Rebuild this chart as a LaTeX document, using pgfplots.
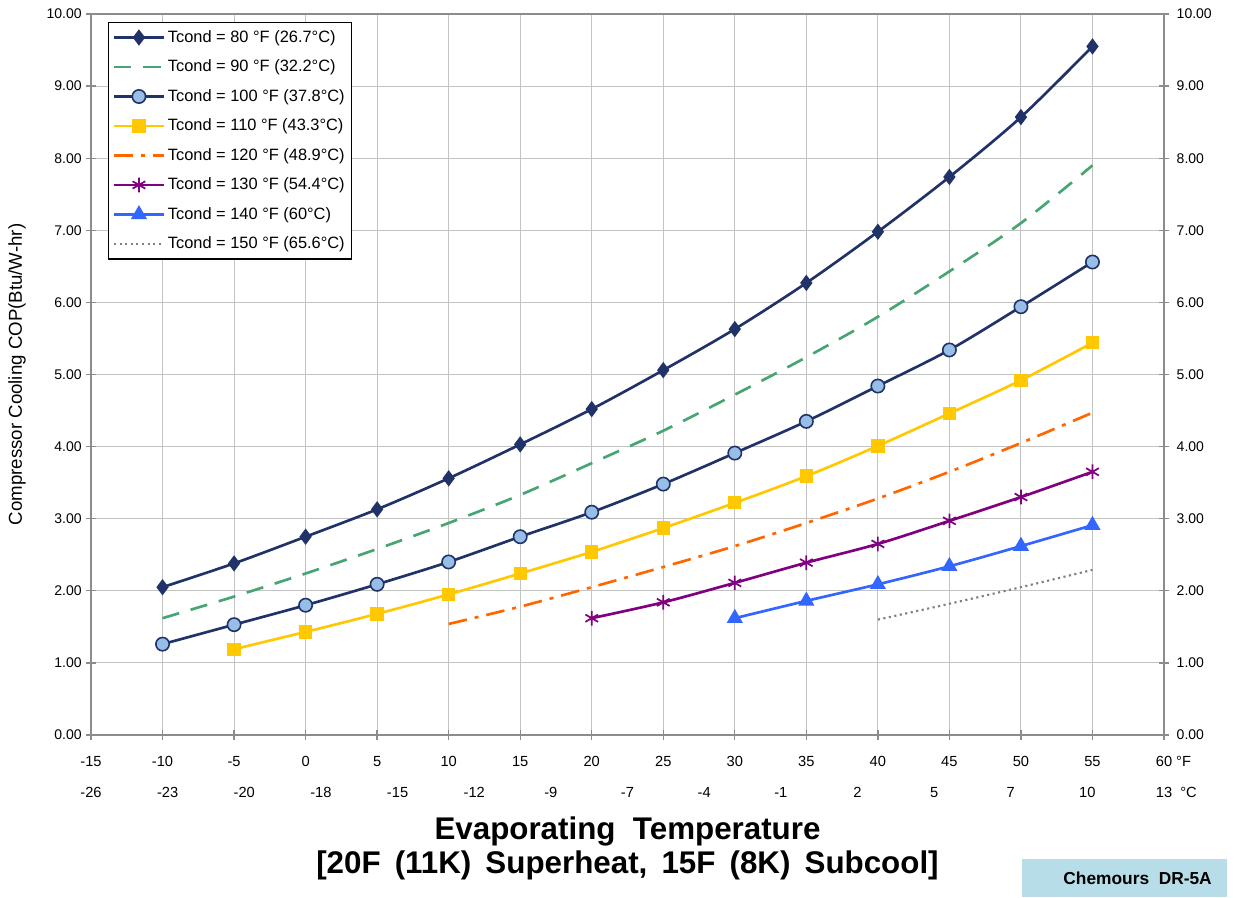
\documentclass[border=0pt]{standalone}
\usepackage{fontspec}
\setmainfont{Liberation Sans}
\usepackage{pgfplots}
\pgfplotsset{compat=1.18}

\definecolor{cnavy}{RGB}{32,50,104}
\definecolor{cgreen}{RGB}{70,165,115}
\definecolor{clight}{RGB}{150,190,230}
\definecolor{cgold}{RGB}{255,200,0}
\definecolor{corange}{RGB}{255,102,0}
\definecolor{cpurple}{RGB}{128,0,128}
\definecolor{cblue}{RGB}{51,102,255}
\definecolor{cgray}{RGB}{128,128,128}
\definecolor{gridgray}{RGB}{195,195,195}
\definecolor{axgray}{RGB}{140,140,140}
\definecolor{boxblue}{RGB}{183,222,232}

\begin{document}
\begin{tikzpicture}
\pgfplotsset{
  /pgf/number format/assume math mode=true,
  /pgfplots/legend image code/.code={%
    \draw[mark repeat=2,mark phase=2,#1] plot coordinates {(0pt,0pt) (18.75pt,0pt) (37.5pt,0pt)};}
}
\begin{axis}[
  scale only axis, width=804.75pt, height=540.75pt,
  xmin=-15, xmax=60, ymin=0, ymax=10,
  xtick={-15,-10,...,60},
  xticklabels={-15,-10,-5,0,5,10,15,20,25,30,35,40,45,50,55,{60\rlap{ °F}}},
  ytick={0,1,...,10},
  grid=major, major grid style={color=gridgray, line width=0.8pt},
  axis line style={color=axgray, line width=1.2pt},
  tick style={color=axgray, line width=1pt}, tick align=center, major tick length=7pt,
  xtick pos=bottom, ytick pos=both, yticklabel pos=left,
  yticklabel style={/pgf/number format/fixed, /pgf/number format/fixed zerofill, /pgf/number format/precision=2, font=\fontsize{10.5}{12}\selectfont},
  xticklabel style={font=\fontsize{11}{13}\selectfont, yshift=-9.25pt},
  ylabel={Compressor Cooling COP(Btu/W-hr)},
  ylabel style={at={(axis description cs:-0.069,0.5)}, anchor=center, font=\fontsize{14}{16}\selectfont},
  xlabel={Evaporating\ \ Temperature\\{[}20F\hspace{0.45em}(11K)\hspace{0.45em}Superheat,\hspace{0.45em}15F\hspace{0.45em}(8K)\hspace{0.45em}Subcool{]}},
  xlabel style={at={(axis description cs:0.5,0)}, anchor=center, yshift=-85pt, align=center, font=\bfseries\fontsize{23.5}{25.5}\selectfont},
  legend style={at={(0.0158,0.989)}, anchor=north west, draw=black, line width=1pt, font=\fontsize{12.3}{14}\selectfont, row sep=7.7pt, inner xsep=3pt, inner ysep=4pt, fill=white},
  legend cell align=left,
  every axis plot/.append style={line width=2pt, smooth},
]
\addplot[cnavy, mark=diamond*, mark size=4.5pt, mark options={fill=cnavy, solid}] coordinates {
(-10,2.05) (-5,2.38) (0,2.75) (5,3.13) (10,3.56) (15,4.03) (20,4.52) (25,5.06) (30,5.63) (35,6.27) (40,6.98) (45,7.74) (50,8.57) (55,9.55)};
\addlegendentry{Tcond = 80 °F (26.7°C)}
\addplot[cgreen, dash pattern=on 13pt off 9pt, mark=none] coordinates {
(-10,1.62) (-5,1.92) (0,2.24) (5,2.58) (10,2.94) (15,3.33) (20,3.77) (25,4.22) (30,4.72) (35,5.24) (40,5.80) (45,6.43) (50,7.10) (55,7.90)};
\addlegendentry{Tcond = 90 °F (32.2°C)}
\addplot[cnavy, mark=*, mark size=5pt, mark options={fill=clight, draw=cnavy, line width=1.2pt, solid}] coordinates {
(-10,1.26) (-5,1.53) (0,1.80) (5,2.09) (10,2.40) (15,2.75) (20,3.09) (25,3.48) (30,3.91) (35,4.35) (40,4.84) (45,5.34) (50,5.94) (55,6.56)};
\addlegendentry{Tcond = 100 °F (37.8°C)}
\addplot[cgold, mark=square*, mark size=4pt, mark options={fill=cgold, solid}] coordinates {
(-5,1.19) (0,1.43) (5,1.68) (10,1.95) (15,2.24) (20,2.54) (25,2.87) (30,3.22) (35,3.59) (40,4.01) (45,4.46) (50,4.92) (55,5.44)};
\addlegendentry{Tcond = 110 °F (43.3°C)}
\addplot[corange, dash pattern=on 14pt off 6pt on 3pt off 6pt, mark=none] coordinates {
(10,1.54) (15,1.78) (20,2.05) (25,2.33) (30,2.62) (35,2.94) (40,3.28) (45,3.65) (50,4.05) (55,4.47)};
\addlegendentry{Tcond = 120 °F (48.9°C)}
\addplot[cpurple, mark=asterisk, mark size=5.5pt, mark options={line width=1.3pt, solid}] coordinates {
(20,1.62) (25,1.84) (30,2.11) (35,2.39) (40,2.65) (45,2.97) (50,3.30) (55,3.65)};
\addlegendentry{Tcond = 130 °F (54.4°C)}
\addplot[cblue, mark=triangle*, mark size=5pt, mark options={fill=cblue, solid}] coordinates {
(30,1.62) (35,1.86) (40,2.09) (45,2.34) (50,2.62) (55,2.91)};
\addlegendentry{Tcond = 140 °F (60°C)}
\addplot[cgray, line width=1.6pt, dash pattern=on 1.6pt off 2.6pt, mark=none] coordinates {
(40,1.60) (45,1.82) (50,2.05) (55,2.29)};
\addlegendentry{Tcond = 150 °F (65.6°C)}
\end{axis}
\begin{axis}[
  scale only axis, width=804.75pt, height=540.75pt,
  xmin=-15, xmax=60, ymin=0, ymax=10,
  xtick={-15,-9.643,-4.286,1.071,6.429,11.786,17.143,22.5,27.857,33.214,38.571,43.929,49.286,54.643,60},
  xticklabels={-26,-23,-20,-18,-15,-12,-9,-7,-4,-1,2,5,7,10,{13\rlap{\ \ °C}}},
  ytick={0,1,...,10},
  axis line style={draw=none}, major tick length=0pt,
  xtick pos=bottom, ytick pos=right, yticklabel pos=right,
  yticklabel style={/pgf/number format/fixed, /pgf/number format/fixed zerofill, /pgf/number format/precision=2, font=\fontsize{10.5}{12}\selectfont, xshift=6pt},
  xticklabel style={font=\fontsize{11}{13}\selectfont, yshift=-35.5pt},
]
\addplot[draw=none, mark=none, forget plot] coordinates {(-15,0) (60,10)};
\end{axis}
\fill[boxblue] (698.25pt,-93pt) rectangle (852pt,-121.5pt);
\node[anchor=east, inner sep=0pt, font=\bfseries\fontsize{13}{15}\selectfont] at (840.75pt,-107.25pt) {Chemours\ \ DR-5A};
\pgfresetboundingbox
\path (-68.25pt,-122.25pt) rectangle (861pt,551.25pt);
\end{tikzpicture}
\end{document}
